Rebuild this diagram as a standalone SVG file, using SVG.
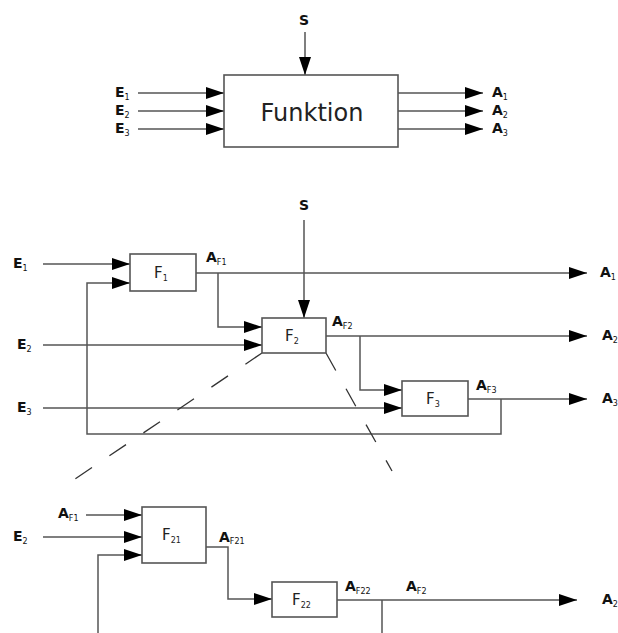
<svg xmlns="http://www.w3.org/2000/svg" width="618" height="633" viewBox="0 0 618 633">
<defs>
<marker id="ah" markerUnits="userSpaceOnUse" markerWidth="18" markerHeight="12" refX="18" refY="6" orient="auto">
<path d="M0,0 L18,6 L0,12 z" fill="#000"/>
</marker>
<style>
.bx{fill:#fff;stroke:#555;stroke-width:1.6}
.ln{fill:none;stroke:#555;stroke-width:1.5}
.ar{fill:none;stroke:#555;stroke-width:1.5;marker-end:url(#ah)}
.ds{fill:none;stroke:#333;stroke-width:1.3;stroke-dasharray:20 21}
.lb{font-family:"DejaVu Sans",sans-serif;font-weight:bold;font-size:14px;fill:#111}
.sb{font-weight:normal;font-size:8px}
.fn{font-family:"DejaVu Sans",sans-serif;font-size:15px;fill:#222}
.fs{font-size:8px}
.big{font-family:"DejaVu Sans",sans-serif;font-size:24px;fill:#222}
</style>
</defs>
<g id="connectors">
<path class="ar" d="M305,32 V75"/>
<path class="ar" d="M138,93 H224"/>
<path class="ar" d="M138,111 H224"/>
<path class="ar" d="M138,129 H224"/>
<path class="ar" d="M398,93 H483"/>
<path class="ar" d="M398,111 H483"/>
<path class="ar" d="M398,129 H483"/>
<path class="ar" d="M43,264 H130"/>
<path class="ar" d="M304,220 V318"/>
<path class="ar" d="M196,273 H587"/>
<path class="ar" d="M218,273 V327 H262"/>
<path class="ar" d="M43,345 H262"/>
<path class="ar" d="M326,336 H587"/>
<path class="ar" d="M360,336 V390 H402"/>
<path class="ar" d="M43,408 H402"/>
<path class="ar" d="M468,399 H587"/>
<path class="ar" d="M501,399 V434 H87 V283 H130"/>
<path class="ds" d="M262,353 L75,479"/>
<path class="ds" d="M326,353 L392,471"/>
<path class="ar" d="M86,515 H142"/>
<path class="ar" d="M43,537 H142"/>
<path class="ar" d="M98,633 V555 H142"/>
<path class="ar" d="M206,547 H228 V599 H272"/>
<path class="ar" d="M337,600 H577"/>
<path class="ln" d="M382,600 V633"/>
</g>
<g id="funktion">
<rect class="bx" x="224" y="75" width="174" height="72"/>
<text class="big" x="312" y="121" text-anchor="middle">Funktion</text>
</g>
<g id="F1">
<rect class="bx" x="130" y="254" width="66" height="37"/>
<text class="fn" x="154" y="278">F<tspan class="fs" dy="3">1</tspan></text>
</g>
<g id="F2">
<rect class="bx" x="262" y="318" width="64" height="35"/>
<text class="fn" x="285" y="341">F<tspan class="fs" dy="3">2</tspan></text>
</g>
<g id="F3">
<rect class="bx" x="402" y="381" width="66" height="35"/>
<text class="fn" x="426" y="404">F<tspan class="fs" dy="3">3</tspan></text>
</g>
<g id="F21">
<rect class="bx" x="142" y="507" width="64" height="56"/>
<text class="fn" x="162" y="540">F<tspan class="fs" dy="3">21</tspan></text>
</g>
<g id="F22">
<rect class="bx" x="272" y="582" width="65" height="35"/>
<text class="fn" x="292" y="605">F<tspan class="fs" dy="3">22</tspan></text>
</g>
<g id="labels">
<text class="lb" x="299" y="25">S</text>
<text class="lb" x="115" y="97">E<tspan class="sb" dy="3">1</tspan></text>
<text class="lb" x="115" y="115">E<tspan class="sb" dy="3">2</tspan></text>
<text class="lb" x="115" y="133">E<tspan class="sb" dy="3">3</tspan></text>
<text class="lb" x="492" y="97">A<tspan class="sb" dy="3">1</tspan></text>
<text class="lb" x="492" y="115">A<tspan class="sb" dy="3">2</tspan></text>
<text class="lb" x="492" y="133">A<tspan class="sb" dy="3">3</tspan></text>
<text class="lb" x="299" y="210">S</text>
<text class="lb" x="13" y="268">E<tspan class="sb" dy="3">1</tspan></text>
<text class="lb" x="17" y="349">E<tspan class="sb" dy="3">2</tspan></text>
<text class="lb" x="17" y="412">E<tspan class="sb" dy="3">3</tspan></text>
<text class="lb" x="206" y="262">A<tspan class="sb" dy="3">F1</tspan></text>
<text class="lb" x="332" y="326">A<tspan class="sb" dy="3">F2</tspan></text>
<text class="lb" x="476" y="390">A<tspan class="sb" dy="3">F3</tspan></text>
<text class="lb" x="600" y="277">A<tspan class="sb" dy="3">1</tspan></text>
<text class="lb" x="602" y="340">A<tspan class="sb" dy="3">2</tspan></text>
<text class="lb" x="602" y="403">A<tspan class="sb" dy="3">3</tspan></text>
<text class="lb" x="58" y="518">A<tspan class="sb" dy="3">F1</tspan></text>
<text class="lb" x="13" y="541">E<tspan class="sb" dy="3">2</tspan></text>
<text class="lb" x="219" y="542">A<tspan class="sb" dy="2">F21</tspan></text>
<text class="lb" x="345" y="591">A<tspan class="sb" dy="3">F22</tspan></text>
<text class="lb" x="406" y="591">A<tspan class="sb" dy="3">F2</tspan></text>
<text class="lb" x="602" y="604">A<tspan class="sb" dy="3">2</tspan></text>
</g>
</svg>
